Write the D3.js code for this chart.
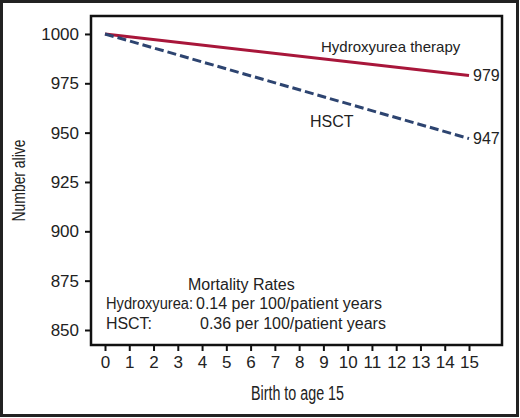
<!DOCTYPE html>
<html>
<head>
<meta charset="utf-8">
<script src="https://cdn.jsdelivr.net/npm/d3@7"></script>
<style>
  body { margin: 0; background: #fff; }
  svg text { font-family: "Liberation Sans", Arial, sans-serif; fill: #222; }
</style>
</head>
<body>
<svg id="chart"></svg>
<script>
// data (both curves are drawn as straight segments)
const ages = [0, 1, 2, 3, 4, 5, 6, 7, 8, 9, 10, 11, 12, 13, 14, 15];
const lineAges = [0, 15];
const hydroxyurea = [1000, 979];
const hsct = [1000, 947];
const yTicks = [850, 875, 900, 925, 950, 975, 1000];
const rateLines = [
  { name: "Hydroxyurea:", rate: "0.14 per 100/patient years" },
  { name: "HSCT:", rate: "0.36 per 100/patient years" }
];

const W = 520, H = 418;
const box = { left: 91, top: 16, right: 502, bottom: 345 };

const svg = d3.select("#chart").attr("width", W).attr("height", H);

// outer frame
svg.append("rect")
  .attr("x", 1.5).attr("y", 1.5)
  .attr("width", W - 4).attr("height", H - 4)
  .attr("fill", "none").attr("stroke", "#222").attr("stroke-width", 3);

const x = d3.scaleLinear().domain([0, 15]).range([105, 469]);
const y = d3.scaleLinear().domain([842.4, 1009.1]).range([box.bottom, box.top]);

// plot box
svg.append("rect")
  .attr("x", box.left).attr("y", box.top)
  .attr("width", box.right - box.left).attr("height", box.bottom - box.top)
  .attr("fill", "none").attr("stroke", "#111").attr("stroke-width", 2.5);

// y axis
const yAxis = svg.append("g")
  .attr("transform", "translate(" + box.left + ",0)")
  .call(d3.axisLeft(y).tickValues(yTicks).tickFormat(d3.format("d")).tickSize(6).tickPadding(6));
yAxis.select(".domain").remove();
yAxis.selectAll(".tick line").attr("stroke", "#111").attr("stroke-width", 2);
yAxis.selectAll(".tick text")
  .attr("font-size", 17).attr("fill", "#222")
  .style("font-family", "'Liberation Sans', Arial, sans-serif");

// x axis
const xAxis = svg.append("g")
  .attr("transform", "translate(0," + box.bottom + ")")
  .call(d3.axisBottom(x).tickValues(ages).tickFormat(d3.format("d")).tickSize(6).tickPadding(5));
xAxis.select(".domain").remove();
xAxis.selectAll(".tick line").attr("stroke", "#111").attr("stroke-width", 2);
xAxis.selectAll(".tick text")
  .attr("font-size", 17).attr("fill", "#222")
  .style("font-family", "'Liberation Sans', Arial, sans-serif");

// axis titles (condensed face in the original, squeezed here)
svg.append("text")
  .attr("x", 251).attr("y", 400)
  .attr("font-size", 19.5)
  .attr("textLength", 93).attr("lengthAdjust", "spacingAndGlyphs")
  .text("Birth to age 15");

svg.append("text")
  .attr("transform", "translate(25," + (box.top + box.bottom) / 2 + ") rotate(-90)")
  .attr("x", -41)
  .attr("font-size", 19)
  .attr("textLength", 82).attr("lengthAdjust", "spacingAndGlyphs")
  .text("Number alive");

const line = d3.line()
  .x((d, i) => x(lineAges[i]))
  .y(d => y(d));

svg.append("path")
  .datum(hydroxyurea)
  .attr("fill", "none").attr("stroke", "#a8163a").attr("stroke-width", 3)
  .attr("d", line);

svg.append("path")
  .datum(hsct)
  .attr("fill", "none").attr("stroke", "#2d4470").attr("stroke-width", 3)
  .attr("stroke-dasharray", "9,4")
  .attr("d", line);

// end values
svg.append("text")
  .attr("x", x(15) + 4).attr("y", y(hydroxyurea[1])).attr("dy", "0.35em")
  .attr("font-size", 16)
  .text(hydroxyurea[1]);
svg.append("text")
  .attr("x", x(15) + 4).attr("y", y(hsct[1])).attr("dy", "0.35em")
  .attr("font-size", 16)
  .text(hsct[1]);

// series labels
svg.append("text")
  .attr("x", 321).attr("y", 52)
  .attr("font-size", 15)
  .text("Hydroxyurea therapy");
svg.append("text")
  .attr("x", 310).attr("y", 127)
  .attr("font-size", 16)
  .text("HSCT");

// mortality rates note
svg.append("text")
  .attr("x", 188).attr("y", 290)
  .attr("font-size", 16)
  .text("Mortality Rates");

rateLines.forEach((r, i) => {
  svg.append("text")
    .attr("x", 106).attr("y", 309 + i * 20)
    .attr("font-size", 16)
    .attr("textLength", i === 0 ? 87 : 46).attr("lengthAdjust", "spacingAndGlyphs")
    .text(r.name);
  svg.append("text")
    .attr("x", i === 0 ? 196 : 200).attr("y", 309 + i * 20)
    .attr("font-size", 16)
    .text(r.rate);
});
</script>
</body>
</html>
